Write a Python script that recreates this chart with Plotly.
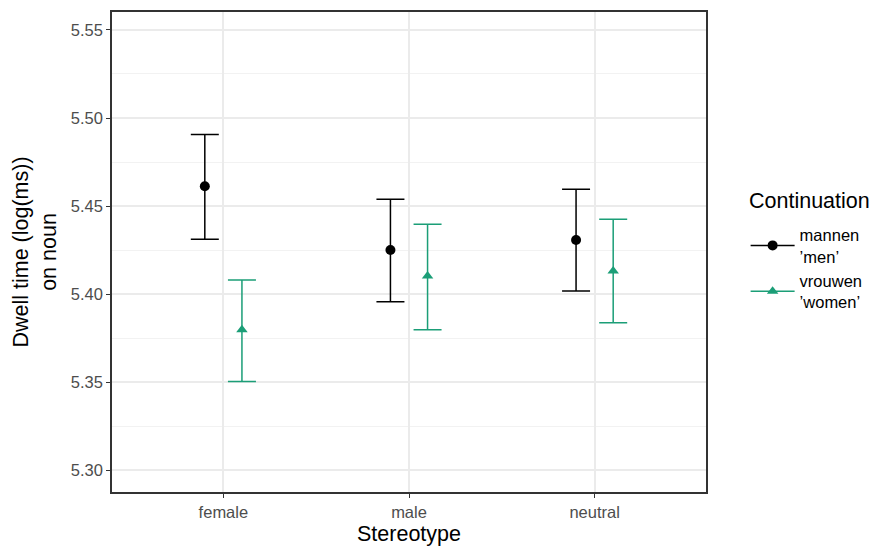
import plotly.graph_objects as go

categories = ["female", "male", "neutral"]
groups = ["mannen<br>’men’", "vrouwen<br>’women’"]
mannen_mean = [5.4612, 5.4250, 5.4307]
mannen_lo = [5.4312, 5.3956, 5.4018]
mannen_hi = [5.4906, 5.4538, 5.4595]
vrouwen_mean = [5.3798, 5.4103, 5.4131]
vrouwen_lo = [5.3503, 5.3798, 5.3837]
vrouwen_hi = [5.4080, 5.4397, 5.4425]
yticks = [5.30, 5.35, 5.40, 5.45, 5.50, 5.55]

colors = ["#000000", "#1B9E77"]
symbols = ["circle", "triangle-up"]
dodge = 0.1

series = [
    (mannen_mean, mannen_lo, mannen_hi),
    (vrouwen_mean, vrouwen_lo, vrouwen_hi),
]

FONT = "Liberation Sans, Arial, Helvetica, sans-serif"
TICK = 16.5
TITLE = 21.5

fig = go.Figure()
base = list(range(1, len(categories) + 1))
for i, (m, lo, hi) in enumerate(series):
    off = -dodge if i == 0 else dodge
    xs = [b + off for b in base]
    fig.add_trace(go.Scatter(
        x=xs, y=m, mode="markers",
        marker=dict(color=colors[i], symbol=symbols[i], size=10),
        error_y=dict(type="data", symmetric=False,
                     array=[h - v for h, v in zip(hi, m)],
                     arrayminus=[v - l for v, l in zip(m, lo)],
                     color=colors[i], thickness=1.5, width=14),
        showlegend=False,
    ))
    fig.add_trace(go.Scatter(
        x=[None], y=[None], mode="lines+markers", name=groups[i],
        line=dict(color=colors[i], width=1.5),
        marker=dict(color=colors[i], symbol=symbols[i], size=10),
    ))

axis_common = dict(
    showline=True, mirror=True, linecolor="#333333", linewidth=1.5,
    ticks="outside", ticklen=4, tickcolor="#333333", tickwidth=1.2,
    gridcolor="#EBEBEB", gridwidth=1.5, zeroline=False,
    tickfont=dict(family=FONT, size=TICK, color="#4D4D4D"),
)

fig.update_layout(
    width=880, height=558,
    margin=dict(l=112, r=174, t=10, b=66),
    paper_bgcolor="white", plot_bgcolor="white",
    font=dict(family=FONT, color="black"),
    xaxis=dict(
        **axis_common,
        range=[0.4, 3.6], tickvals=base, ticktext=categories,
        title=dict(text="Stereotype", font=dict(size=TITLE, color="black"), standoff=6),
    ),
    yaxis=dict(
        **axis_common,
        range=[5.2876, 5.5602], tickvals=yticks,
        ticktext=[f"{v:.2f}" for v in yticks],
        minor=dict(showgrid=True, gridcolor="#F2F2F2", gridwidth=0.8, dtick=0.05, tick0=5.275),
        title=dict(text="Dwell time (log(ms))<br>on noun", font=dict(size=TITLE, color="black"), standoff=8),
    ),
    legend=dict(
        x=1.0667, y=0.572, xanchor="left", yanchor="top",
        font=dict(size=TICK, color="black"),
        itemwidth=44, tracegroupgap=6,
        bgcolor="rgba(0,0,0,0)",
    ),
    annotations=[dict(
        text="Continuation", xref="paper", yref="paper",
        x=1.069, y=0.606, xanchor="left", yanchor="middle",
        showarrow=False, font=dict(size=TITLE, color="black"),
    )],
)

fig.write_html("out.html")
